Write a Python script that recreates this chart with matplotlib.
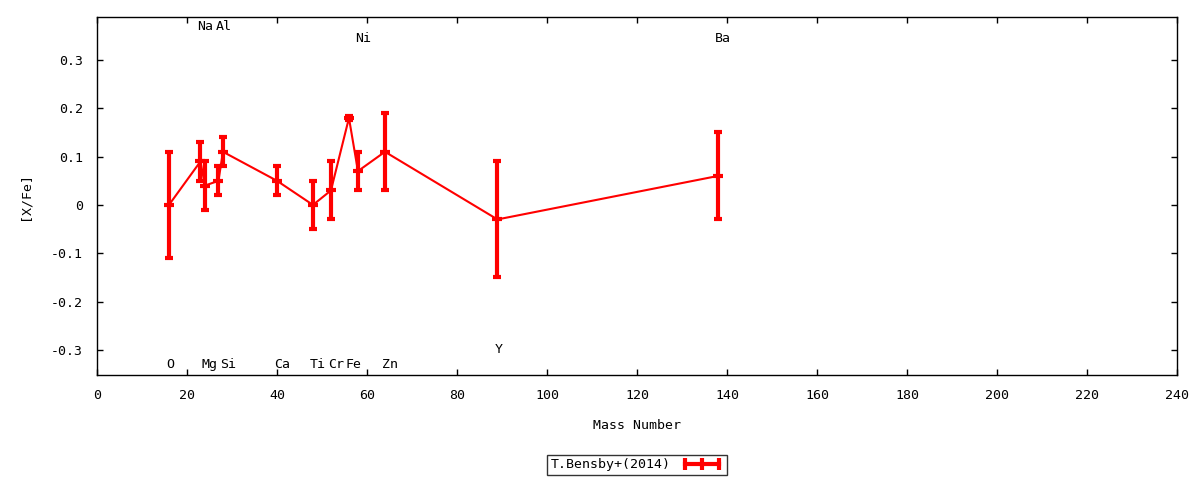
import numpy as np
import matplotlib
matplotlib.use('Agg')
import matplotlib.pyplot as plt
from matplotlib.lines import Line2D

# T.Bensby+(2014) abundances vs mass number
elements = ['O', 'Na', 'Mg', 'Al', 'Si', 'Ca', 'Ti', 'Cr', 'Fe', 'Ni', 'Zn', 'Y', 'Ba']
mass = [16, 23, 24, 27, 28, 40, 48, 52, 56, 58, 64, 89, 138]
xfe = [0.0, 0.09, 0.04, 0.05, 0.11, 0.05, 0.0, 0.03, 0.18, 0.07, 0.11, -0.03, 0.06]
err = [0.11, 0.04, 0.05, 0.03, 0.03, 0.03, 0.05, 0.06, 0.005, 0.04, 0.08, 0.12, 0.09]
label_y = [-0.33, 0.37, -0.33, 0.37, -0.33, -0.33, -0.33, -0.33, -0.33, 0.345, -0.33, -0.30, 0.345]

xticks = [0, 20, 40, 60, 80, 100, 120, 140, 160, 180, 200, 220, 240]
yticks = [-0.3, -0.2, -0.1, 0, 0.1, 0.2, 0.3]
ytick_labels = ['-0.3', '-0.2', '-0.1', '0', '0.1', '0.2', '0.3']

plt.rcParams['font.family'] = ['DejaVu Sans Mono']
plt.rcParams['font.size'] = 9.5

fig = plt.figure(figsize=(12, 4.8), dpi=100)
ax = fig.add_axes([0.0808, 0.21875, 0.9, 0.74585])

red = '#ff0000'
ax.plot(mass, xfe, color=red, lw=1.5, zorder=2)
ax.errorbar(mass, xfe, yerr=err, fmt='none', ecolor=red, elinewidth=3,
            capsize=3, capthick=3, zorder=3)
ax.plot(mass, xfe, ls='none', marker='_', ms=7, mew=3, color=red, zorder=4)

for el, m, ly in zip(elements, mass, label_y):
    ax.annotate(el, (m, ly), xytext=(-2.2, 0), textcoords='offset points',
                ha='left', va='center', fontsize=9.5)

ax.set_xlim(0, 240)
ax.set_ylim(-0.352, 0.389)
ax.set_xticks(xticks)
ax.set_xticklabels([str(t) for t in xticks])
ax.set_yticks(yticks)
ax.set_yticklabels(ytick_labels)
ax.tick_params(direction='in', length=4, width=1, top=True, right=True)
ax.tick_params(axis='x', pad=10)
ax.tick_params(axis='y', pad=10)
for s in ax.spines.values():
    s.set_linewidth(1)

ax.set_xlabel('Mass Number', labelpad=12)
ax.set_ylabel('[X/Fe]', labelpad=14)

handle = Line2D([], [], color=red, lw=3, marker='|', ms=8, mew=3)
leg = ax.legend([handle], ['T.Bensby+(2014)'], loc='center',
                bbox_to_anchor=(0.5, -0.251), numpoints=3, markerfirst=False,
                handlelength=3.2, frameon=True, fancybox=False, borderpad=0.25,
                borderaxespad=0, handletextpad=0.8)
leg.get_frame().set_edgecolor('black')
leg.get_frame().set_linewidth(1)

fig.savefig('out.png', dpi=100)
